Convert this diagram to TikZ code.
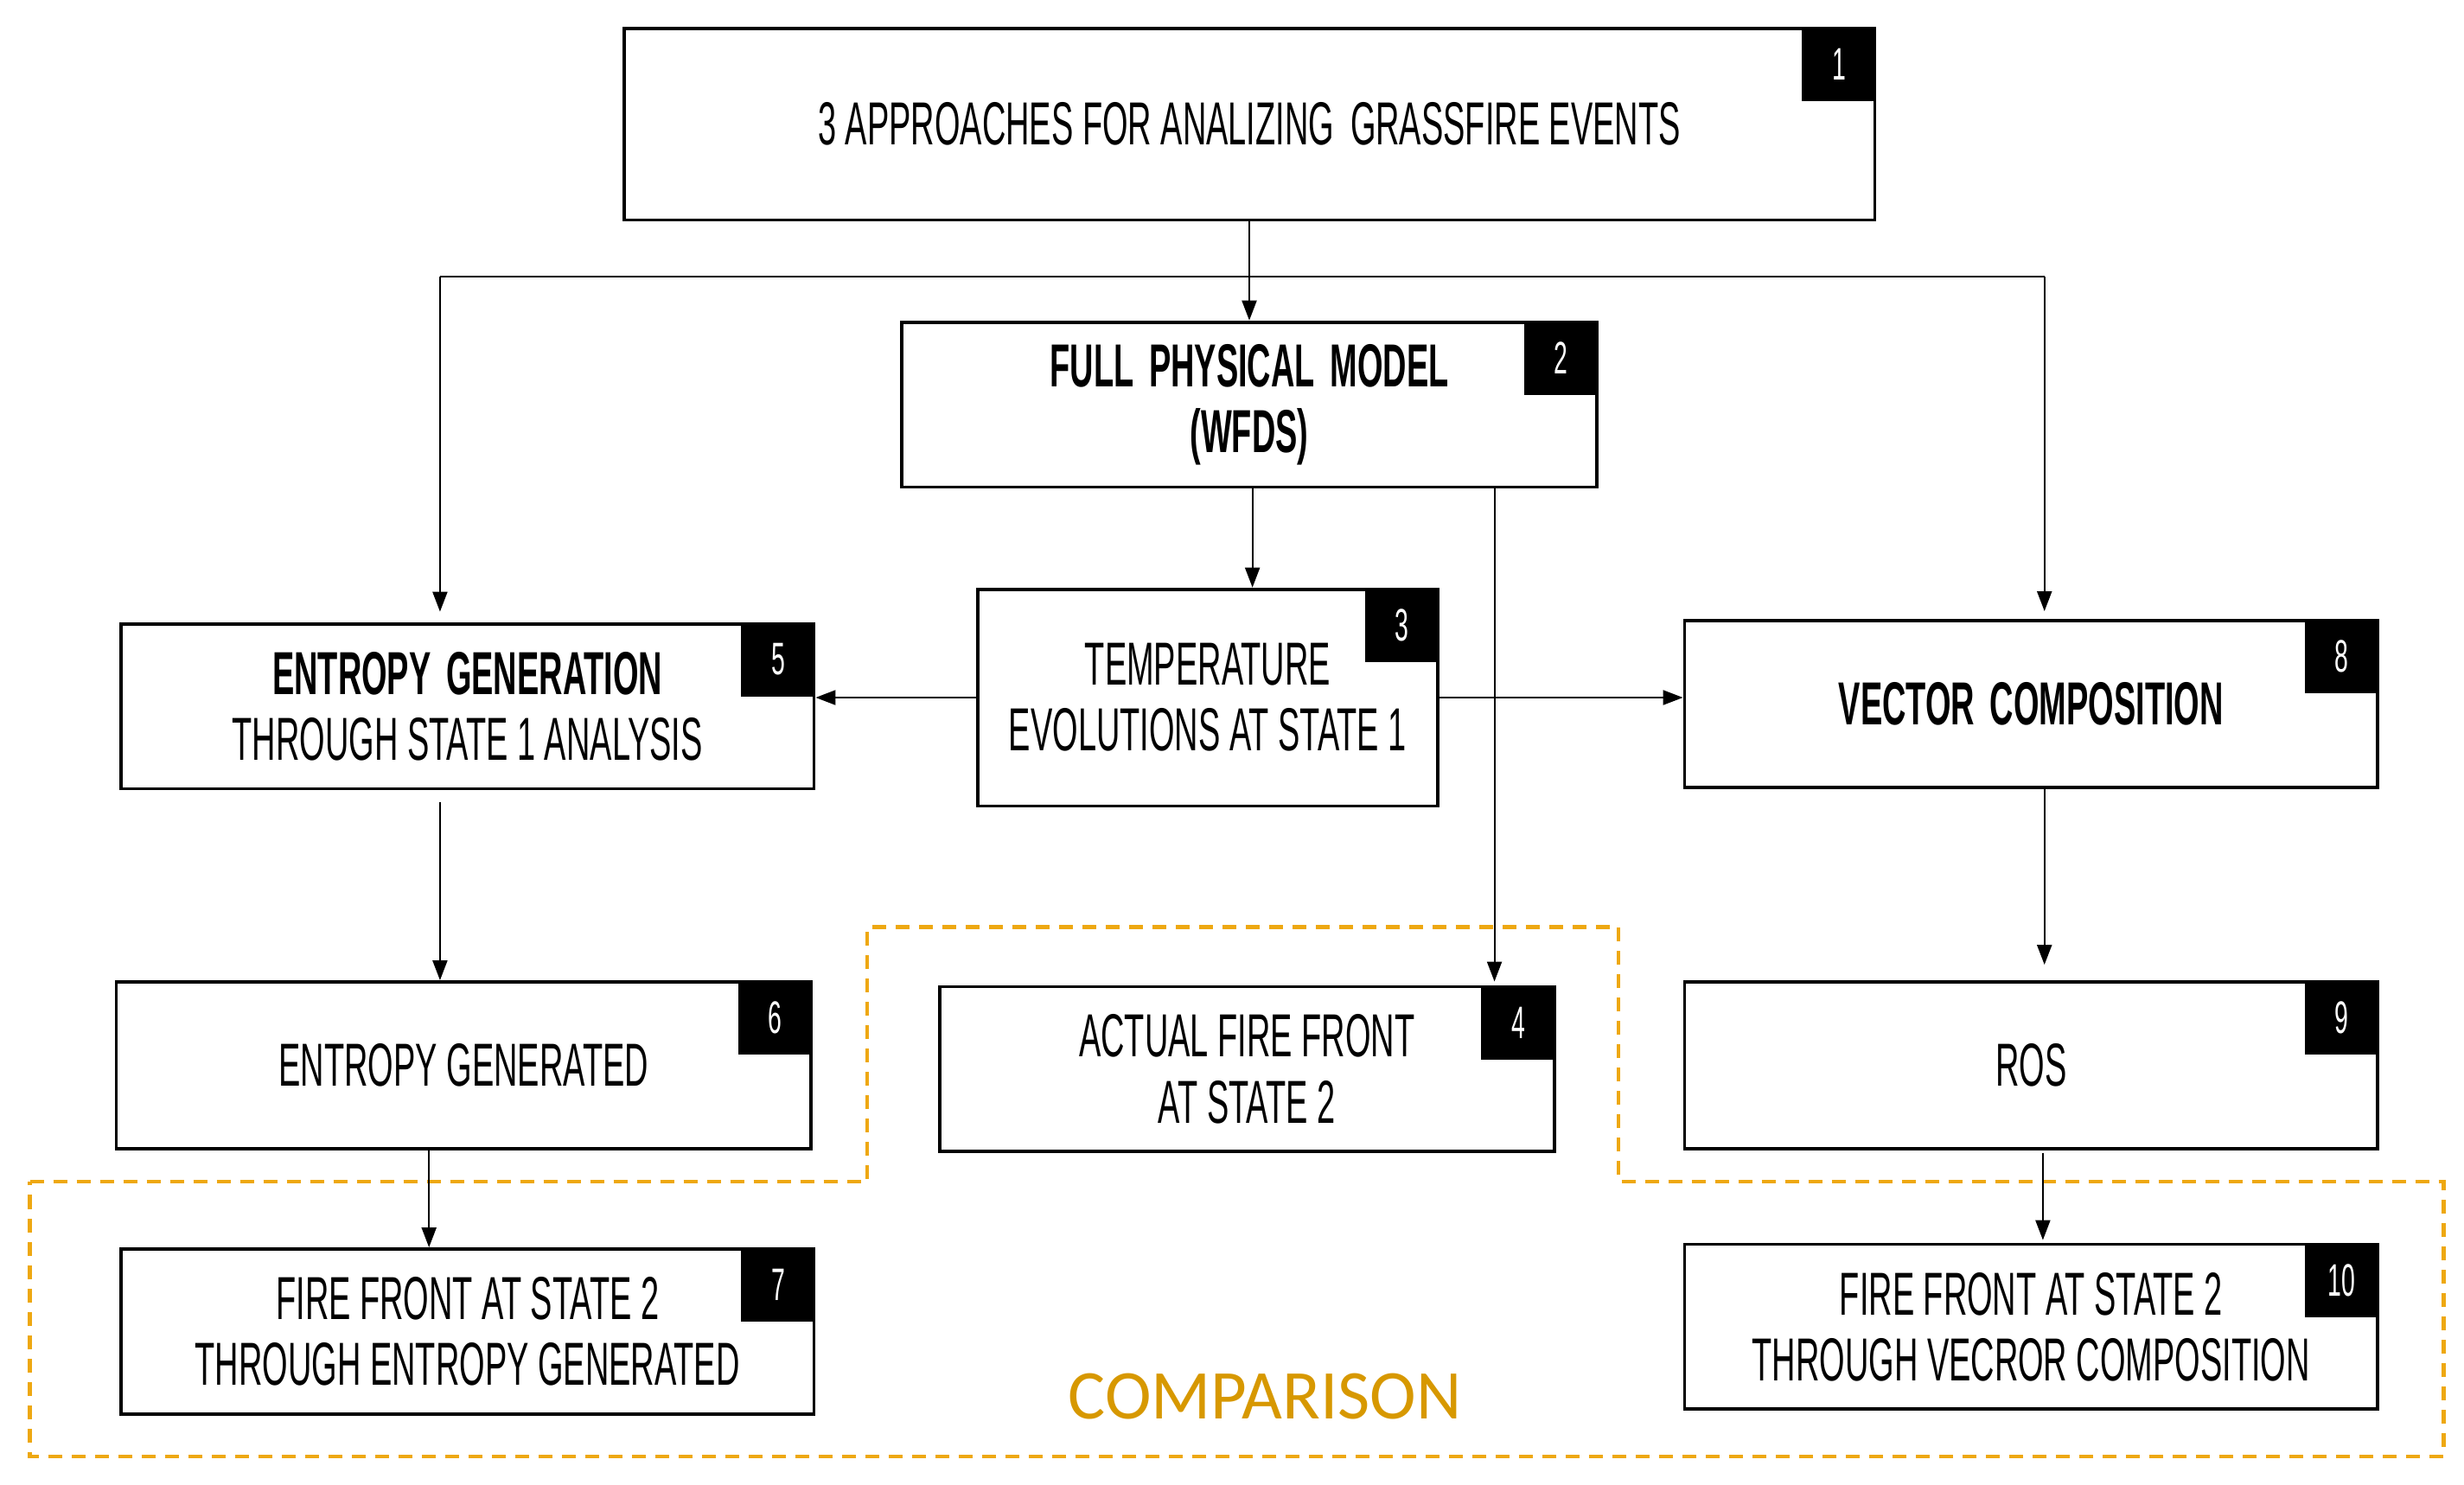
\documentclass[tikz,border=0pt]{standalone}
\usepackage{fontspec}
\setmainfont{Liberation Sans}
\newfontfamily\agency[FakeStretch=0.54]{Liberation Sans}
\newfontfamily\calib{Carlito}
\usetikzlibrary{arrows.meta,calc}
\definecolor{dashcol}{RGB}{238,168,18}
\definecolor{comptext}{RGB}{215,152,0}
\newlength\pxu
\setlength\pxu{0.18176mm}
\begin{document}
\begin{tikzpicture}[x=0.18176mm,y=-0.18176mm,
  box/.style={draw=black,line width=1.1pt,fill=white,inner sep=0pt,align=center,
    font=\agency\fontsize{20}{21.7}\selectfont},
  badge/.style={fill=black,text=white,inner sep=0pt,anchor=north east,
    minimum width=47*\pxu,minimum height=47*\pxu,font=\agency\fontsize{15}{15}\selectfont},
  conn/.style={draw=black,line width=0.6pt},
  arr/.style={conn,-{Triangle[length=2.3mm,width=1.7mm]}},
  cmp/.style={draw=dashcol,line width=1.2pt,dash pattern=on 1.6mm off 1.1mm}]
\fill[white] (0,0) rectangle (1568,945);
\useasboundingbox (0,0) rectangle (1568,945);

% comparison region
\coordinate (c1) at (19,752);
\coordinate (c2) at (552,752);
\coordinate (c3) at (552,590);
\coordinate (c4) at (1030,590);
\coordinate (c5) at (1030,752);
\coordinate (c6) at (1555,752);
\coordinate (c7) at (1555,927);
\coordinate (c8) at (19,927);
\draw[cmp] (c1) -- (c2) -- (c3) -- (c4) -- (c5) -- (c6) -- (c7) -- (c8) -- cycle;
\node[font=\calib\fontsize{23}{23}\selectfont,text=comptext,inner sep=0pt] (cmp) at (805,889) {COMPARISON};

% boxes
\node[box,minimum width=796*\pxu,minimum height=122*\pxu] (b1) at (795,79)
  {3 APPROACHES FOR ANALIZING\hspace{0.12em} GRASSFIRE EVENTS};
\node[badge] (n1) at (b1.north east) {1};

\node[box,minimum width=442*\pxu,minimum height=105*\pxu] (b2) at (795,257.5)
  {\bfseries FULL\hspace{0.1em} PHYSICAL\hspace{0.1em} MODEL\\ \bfseries (WFDS)};
\node[badge] (n2) at (b2.north east) {2};

\node[box,minimum width=293*\pxu,minimum height=138*\pxu] (b3) at (768.5,444)
  {TEMPERATURE\\EVOLUTIONS AT STATE 1};
\node[badge] (n3) at (b3.north east) {3};

\node[box,minimum width=441*\pxu,minimum height=105*\pxu] (b5) at (297.5,449.5)
  {{\bfseries ENTROPY\hspace{0.1em} GENERATION}\\THROUGH STATE 1 ANALYSIS};
\node[badge] (n5) at (b5.north east) {5};

\node[box,minimum width=442*\pxu,minimum height=106*\pxu] (b6) at (295,678)
  {ENTROPY GENERATED};
\node[badge] (n6) at (b6.north east) {6};

\node[box,minimum width=441*\pxu,minimum height=105*\pxu] (b7) at (297.5,847.5)
  {FIRE FRONT AT STATE 2\\THROUGH ENTROPY GENERATED};
\node[badge] (n7) at (b7.north east) {7};

\node[box,minimum width=391*\pxu,minimum height=105*\pxu] (b4) at (793.5,680.5)
  {ACTUAL FIRE FRONT\\AT STATE 2};
\node[badge] (n4) at (b4.north east) {4};

\node[box,minimum width=441*\pxu,minimum height=106*\pxu] (b8) at (1292.5,448)
  {\bfseries VECTOR\hspace{0.1em} COMPOSITION};
\node[badge] (n8) at (b8.north east) {8};

\node[box,minimum width=441*\pxu,minimum height=106*\pxu] (b9) at (1292.5,678)
  {ROS};
\node[badge] (n9) at (b9.north east) {9};

\node[box,minimum width=441*\pxu,minimum height=105*\pxu] (b10) at (1292.5,844.5)
  {FIRE FRONT AT STATE 2\\THROUGH VECROR COMPOSITION};
\node[badge] (n10) at (b10.north east) {10};

% connectors
\coordinate (jn) at (795,176);
\coordinate (jl) at (280,176);
\coordinate (jr) at (1301,176);
\coordinate (x23) at (797,0);
\coordinate (x24) at (951,0);
\coordinate (x67) at (273,0);
\coordinate (x910) at (1300,0);

\draw[arr] (b1.south) -- (b2.north);
\draw[conn] (jl) -- (jr);
\draw[arr,shorten >=1.2mm] (jl) -- (jl |- b5.north);
\draw[arr,shorten >=0.9mm] (jr) -- (jr |- b8.north);
\draw[arr] (b2.south -| x23) -- (b3.north -| x23);
\draw[arr,shorten >=0.4mm] (b2.south -| x24) -- (b4.north -| x24);
\draw[arr] (b3.west) -- (b3.west -| b5.east);
\draw[arr] (b3.east) -- (b3.east -| b8.west);
\draw[arr,shorten <=1.4mm] (b5.south -| jl) -- (b6.north -| jl);
\draw[arr] (b6.south -| x67) -- (b7.north -| x67);
\draw[arr,shorten >=1.8mm] (b8.south -| jr) -- (b9.north -| jr);
\draw[arr,shorten <=0.3mm,shorten >=0.3mm] (b9.south -| x910) -- (b10.north -| x910);
\end{tikzpicture}
\end{document}
